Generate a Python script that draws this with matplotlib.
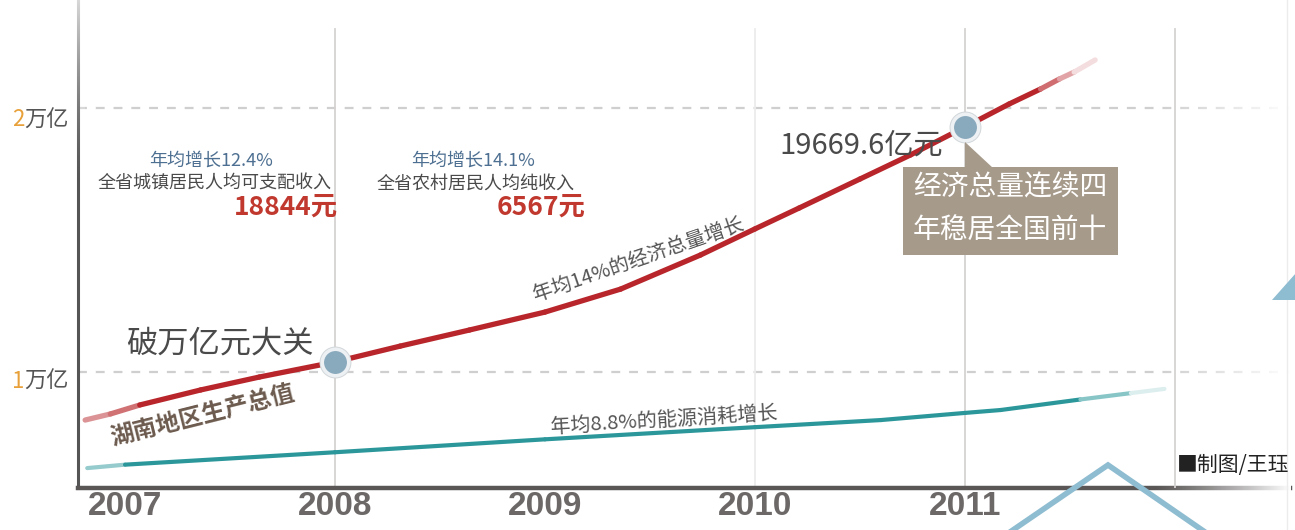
import matplotlib
matplotlib.use('Agg')
import matplotlib.pyplot as plt
import numpy as np
from matplotlib.collections import LineCollection
from matplotlib.patches import Polygon, Rectangle
from matplotlib.colors import to_rgb

plt.rcParams['font.family'] = ['Noto Sans CJK SC', 'DejaVu Sans']

# x axis
years = [2007, 2008, 2009, 2010, 2011]
year_labels = ['2007', '2008', '2009', '2010', '2011']
grid_years = [2008, 2010, 2011, 2012]

# y axis (亿元)
y_ticks = [10000, 20000]
y_digits = ['1', '2']

# 湖南地区生产总值
gdp_x = [2006.81, 2006.93, 2007.07, 2007.36, 2007.64, 2008.0, 2008.31, 2008.64,
         2009.0, 2009.36, 2009.74, 2010.0, 2010.21, 2010.5, 2010.74, 2011.0,
         2011.21, 2011.36, 2011.45, 2011.52, 2011.62]
gdp_y = [8180, 8410, 8750, 9320, 9810, 10380, 10980, 11590,
         12270, 13140, 14430, 15420, 16210, 17310, 18220, 19280,
         20150, 20720, 21100, 21360, 21820]

# 能源消耗
energy_x = [2006.82, 2007.0, 2008.0, 2009.0, 2010.0, 2010.6, 2011.0, 2011.17,
            2011.55, 2011.79, 2011.95]
energy_y = [6360, 6490, 6960, 7450, 7910, 8180, 8450, 8560, 8960, 9200, 9360]

# highlighted points
milestone_x = [2008, 2011]
milestone_y = [10380, 19280]

RED = '#b8262b'
TEAL = '#2b979b'
BOX = '#a69a8b'

W, H = 1295, 530
fig = plt.figure(figsize=(W / 100, H / 100), dpi=100)
fig.patch.set_facecolor('white')


def P(x, y):
    # reference pixel -> figure fraction
    return x / W, 1 - y / H


ax = fig.add_axes([78 / W, 1 - 488 / H, (1290 - 78) / W, 488 / H])
xmin, xmax = 2006.776, 2012.548
ymin, ymax = 5606, 24091


def faded(x, y, color, lw, fin, fout, z):
    x = np.asarray(x)
    y = np.asarray(y)
    pts = np.column_stack([x, y]).reshape(-1, 1, 2)
    segs = np.concatenate([pts[:-1], pts[1:]], axis=1)
    mid = (x[:-1] + x[1:]) / 2
    a = np.ones_like(mid)
    a = np.minimum(a, np.clip((mid - fin[0]) / (fin[1] - fin[0]), 0.5, 1))
    a = np.minimum(a, np.clip((fout[1] - mid) / (fout[1] - fout[0]), 0.05, 1))
    c = np.array(to_rgb(color))
    cols = [tuple(c * k + (1 - k)) for k in a]
    lc = LineCollection(segs, colors=cols, linewidths=lw, capstyle='round',
                        joinstyle='round', zorder=z)
    ax.add_collection(lc)


# grid
for gy in y_ticks:
    ax.axhline(gy, color='#cfcfcf', lw=1.6, dashes=(4, 4), zorder=1)
for gx in grid_years:
    c = '#ececec' if gx == 2010 else '#d6d2d2'
    ax.axvline(gx, ymax=0.94, color=c, lw=1.3, zorder=1.2 if gx != 2012 else 2.8)

faded(gdp_x, gdp_y, RED, 3.8, (2006.81, 2007.1), (2011.3, 2011.62), 3)
faded(energy_x, energy_y, TEAL, 3.0, (2006.82, 2007.0), (2011.45, 2011.95), 3)

ax.plot(milestone_x, milestone_y, 'o', ms=23, mfc='#d3d8db', mec='none', zorder=5)
ax.plot(milestone_x, milestone_y, 'o', ms=19, mfc='#89a9bc', mec='#eef1f3',
        mew=2.5, zorder=6)

ax.set_xlim(xmin, xmax)
ax.set_ylim(ymin, ymax)
ax.set_xticks(years)
ax.set_xticklabels(year_labels, fontsize=24, fontweight='bold', color='#6d6868',
                   family=['Liberation Sans', 'DejaVu Sans'])
ax.tick_params(axis='x', length=0, pad=2)
ax.set_yticks([])
for s in ['top', 'right']:
    ax.spines[s].set_visible(False)
ax.spines['left'].set_color('#555555')
ax.spines['left'].set_linewidth(2.2)
ax.spines['bottom'].set_color('#5a5656')
ax.spines['bottom'].set_linewidth(3.2)

# fade right end of axis and dashes
grad = np.ones((2, 256, 4))
grad[..., 3] = np.linspace(0, 1, 256) ** 1.2
ax.imshow(grad, extent=[2011.9, xmax, ymin - 400, ymax], aspect='auto',
          zorder=2.7, clip_on=False, interpolation='bilinear')
# lighter top of left axis
grad2 = np.ones((256, 2, 4))
grad2[..., 3] = (np.linspace(0.85, 0, 256) ** 1.5)[:, None]
ax.imshow(grad2, extent=[xmin - 0.03, xmin + 0.03, 17000, ymax], aspect='auto',
          zorder=2.7, clip_on=False, interpolation='bilinear')
ax.set_xlim(xmin, xmax)
ax.set_ylim(ymin, ymax)

# y labels
for d, py in zip(y_digits, [381, 120]):
    fig.text(*P(24, py), d, ha='right', va='center', fontsize=16, color='#e8a13a')
    fig.text(*P(24, py), '万亿', ha='left', va='center', fontsize=16, color='#555555')

# income notes
fig.text(*P(211, 161), '年均增长12.4%', ha='center', va='center', fontsize=13, color='#4d6f91')
fig.text(*P(215, 184), '全省城镇居民人均可支配收入', ha='center', va='center', fontsize=13, color='#4a4a4a')
fig.text(*P(338, 207), '18844元', ha='right', va='center', fontsize=19, fontweight='bold', color='#c0382e')
fig.text(*P(473, 161), '年均增长14.1%', ha='center', va='center', fontsize=13, color='#4d6f91')
fig.text(*P(476, 185), '全省农村居民人均纯收入', ha='center', va='center', fontsize=13, color='#4a4a4a')
fig.text(*P(585, 207), '6567元', ha='right', va='center', fontsize=19, fontweight='bold', color='#c0382e')

# milestones
fig.text(*P(220, 344), '破万亿元大关', ha='center', va='center', fontsize=22.5, color='#4a4a4a')
fig.text(*P(943, 146), '19669.6亿元', ha='right', va='center', fontsize=21, color='#4a4a4a')

# callout
x0, y0 = P(903, 255)
x1, y1 = P(1118, 167)
fig.patches.append(Rectangle((x0, y0), x1 - x0, y1 - y0, transform=fig.transFigure,
                             facecolor=BOX, edgecolor='none', zorder=7))
fig.patches.append(Polygon([P(965, 142), P(965, 168), P(993, 168)], closed=True,
                           transform=fig.transFigure, facecolor=BOX, edgecolor='none', zorder=7))
fig.text(*P(1010, 187), '经济总量连续四', ha='center', va='center', fontsize=20, color='white', zorder=8)
fig.text(*P(1010, 230), '年稳居全国前十', ha='center', va='center', fontsize=20, color='white', zorder=8)

# line labels
fig.text(*P(203, 416), '湖南地区生产总值', ha='center', va='center', fontsize=17,
         fontweight='bold', color='#6b5a4d', rotation=14)
fig.text(*P(638, 260), '年均14%的经济总量增长', ha='center', va='center', fontsize=14.5,
         color='#555555', rotation=19)
fig.text(*P(664, 421), '年均8.8%的能源消耗增长', ha='center', va='center', fontsize=14.5,
         color='#555555', rotation=3.6)

# credit
fig.text(*P(1177, 465), '■制图/王珏', ha='left', va='center', fontsize=15, color='#222222', zorder=9)

# decorative shapes
fig.add_artist(plt.Line2D([1010 / W, 1108 / W, 1205 / W], [1 - 532 / H, 1 - 465 / H, 1 - 532 / H],
                          transform=fig.transFigure, color='#8ebcd0', lw=4, zorder=9,
                          solid_joinstyle='miter'))
fig.patches.append(Polygon([P(1272, 300), P(1296, 273), P(1296, 300)], closed=True,
                           transform=fig.transFigure, facecolor='#8ebcd0', edgecolor='none', zorder=9))
fig.add_artist(plt.Line2D([1287 / W, 1287 / W], [0, 1], transform=fig.transFigure,
                          color='#ececec', lw=1, zorder=0.5))

fig.savefig('out.png', dpi=100)
